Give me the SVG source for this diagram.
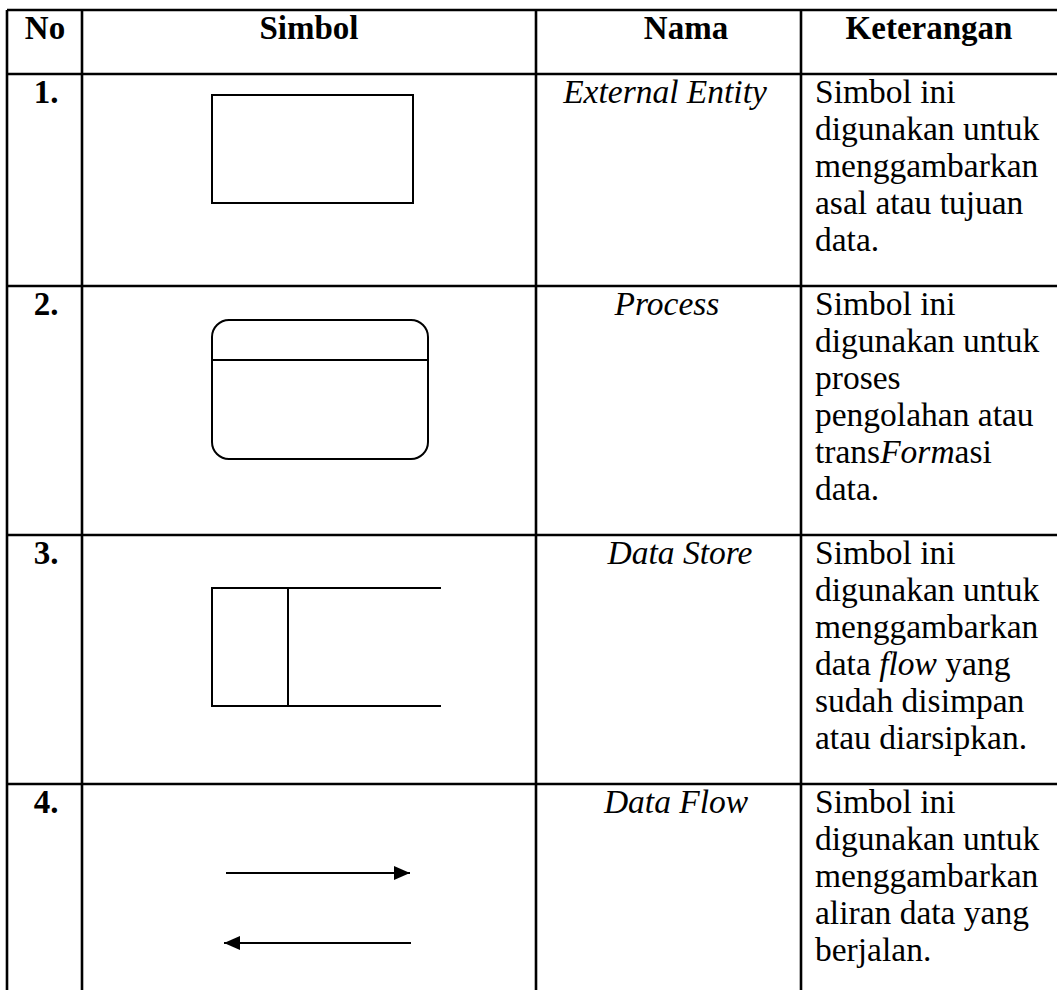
<svg xmlns="http://www.w3.org/2000/svg" width="1057" height="990" viewBox="0 0 1057 990">
<defs>
<style>
.grid{stroke:#000;stroke-width:2.6;fill:none}
.shape{stroke:#000;stroke-width:2;fill:none}
.h{font-family:"Liberation Serif","Times New Roman",serif;font-size:33px;font-weight:bold;fill:#000}
.t{font-family:"Liberation Serif","Times New Roman",serif;font-size:33.5px;fill:#000}
.i{font-style:italic}
.c{text-anchor:middle}
</style>
<marker id="ah" viewBox="0 0 16 14" refX="16" refY="7" markerWidth="16" markerHeight="14" markerUnits="userSpaceOnUse" orient="auto">
<path d="M0,0 L16,7 L0,14 z" fill="#000"/>
</marker>
</defs>
<rect width="1057" height="990" fill="#fff"/>
<g id="table">
<line class="grid" x1="7" y1="10" x2="1057" y2="10"/>
<line class="grid" x1="7" y1="74" x2="1057" y2="74"/>
<line class="grid" x1="7" y1="286" x2="1057" y2="286"/>
<line class="grid" x1="7" y1="535" x2="1057" y2="535"/>
<line class="grid" x1="7" y1="784" x2="1057" y2="784"/>
<line class="grid" x1="7" y1="10" x2="7" y2="990"/>
<line class="grid" x1="82" y1="10" x2="82" y2="990"/>
<line class="grid" x1="536" y1="10" x2="536" y2="990"/>
<line class="grid" x1="801" y1="10" x2="801" y2="990"/>
</g>
<g id="header">
<text class="h c" x="45" y="39">No</text>
<text class="h c" x="309" y="39">Simbol</text>
<text class="h c" x="686" y="39">Nama</text>
<text class="h c" x="929" y="39">Keterangan</text>
</g>
<g id="row1">
<text class="h c" x="46" y="103">1.</text>
<rect id="external-entity" class="shape" x="212" y="95" width="201" height="108"/>
<text class="t i c" x="665" y="103">External Entity</text>
<text class="t" x="815" y="103">Simbol ini</text>
<text class="t" x="815" y="140">digunakan untuk</text>
<text class="t" x="815" y="177">menggambarkan</text>
<text class="t" x="815" y="214">asal atau tujuan</text>
<text class="t" x="815" y="251">data.</text>
</g>
<g id="row2">
<text class="h c" x="46" y="315">2.</text>
<g id="process">
<rect class="shape" x="212" y="320" width="216" height="139" rx="17" ry="17"/>
<line class="shape" x1="212" y1="360" x2="428" y2="360"/>
</g>
<text class="t i c" x="667" y="315">Process</text>
<text class="t" x="815" y="315">Simbol ini</text>
<text class="t" x="815" y="352">digunakan untuk</text>
<text class="t" x="815" y="389">proses</text>
<text class="t" x="815" y="426">pengolahan atau</text>
<text class="t" x="815" y="463">trans<tspan class="i">Form</tspan>asi</text>
<text class="t" x="815" y="500">data.</text>
</g>
<g id="row3">
<text class="h c" x="46" y="564">3.</text>
<g id="data-store">
<rect class="shape" x="212" y="588" width="76" height="118"/>
<line class="shape" x1="288" y1="588" x2="441" y2="588"/>
<line class="shape" x1="288" y1="706" x2="441" y2="706"/>
</g>
<text class="t i c" x="680" y="564">Data Store</text>
<text class="t" x="815" y="564">Simbol ini</text>
<text class="t" x="815" y="601">digunakan untuk</text>
<text class="t" x="815" y="638">menggambarkan</text>
<text class="t" x="815" y="675">data <tspan class="i">flow</tspan> yang</text>
<text class="t" x="815" y="712">sudah disimpan</text>
<text class="t" x="815" y="749">atau diarsipkan.</text>
</g>
<g id="row4">
<text class="h c" x="46" y="813">4.</text>
<text class="t i c" x="676" y="813">Data Flow</text>
<text class="t" x="815" y="813">Simbol ini</text>
<text class="t" x="815" y="850">digunakan untuk</text>
<text class="t" x="815" y="887">menggambarkan</text>
<text class="t" x="815" y="924">aliran data yang</text>
<text class="t" x="815" y="961">berjalan.</text>
</g>
<g id="connectors">
<line class="shape" x1="226" y1="873" x2="410" y2="873" marker-end="url(#ah)"/>
<line class="shape" x1="411" y1="943" x2="224" y2="943" marker-end="url(#ah)"/>
</g>
</svg>
